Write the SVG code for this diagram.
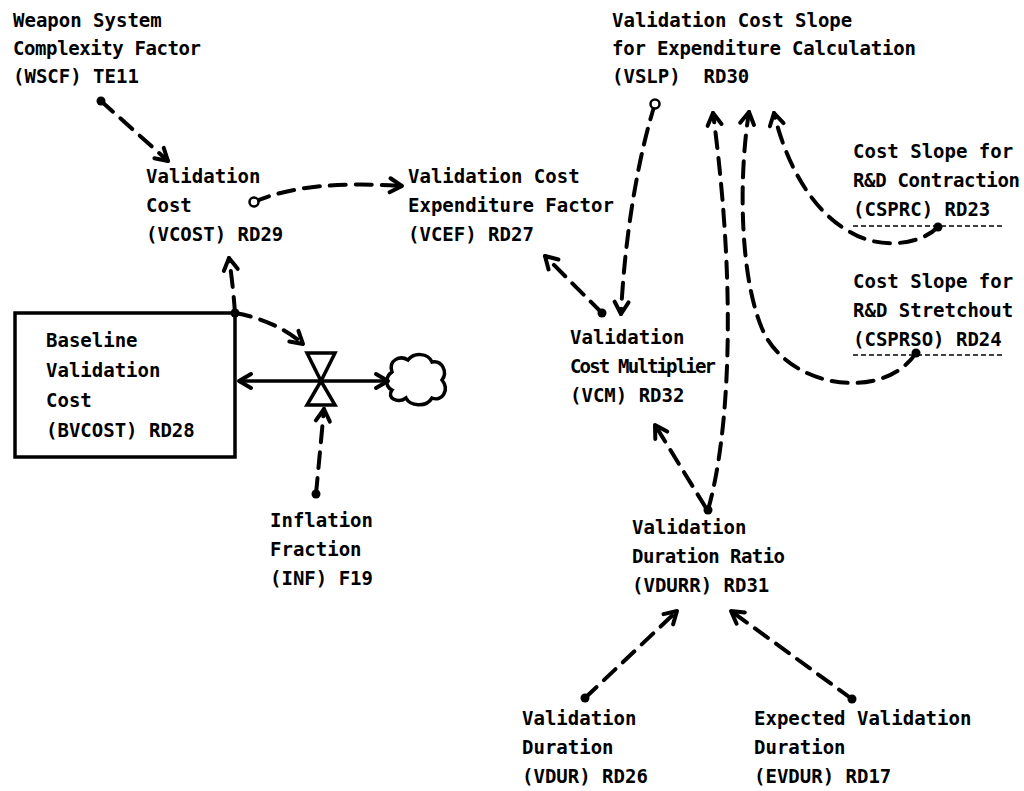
<svg xmlns="http://www.w3.org/2000/svg" width="1024" height="791" viewBox="0 0 1024 791">
<style>
text{font-family:"DejaVu Sans Mono","Liberation Mono",monospace;font-weight:bold;font-size:19px;fill:#000}
.c{fill:none;stroke:#000;stroke-width:4;stroke-dasharray:16 10;stroke-linecap:round}
.s{fill:none;stroke:#000;stroke-width:3.5}
.u{stroke:#000;stroke-width:1.6;stroke-dasharray:5 3}
</style>
<defs>
<marker id="ah" markerUnits="userSpaceOnUse" markerWidth="20" markerHeight="20" viewBox="-14 -10 16 20" refX="0" refY="0" orient="auto">
<path d="M-12,-7 L0,0 L-12,7" fill="none" stroke="#000" stroke-width="4" stroke-linecap="round" stroke-linejoin="round"/>
</marker>
<marker id="dot" markerUnits="userSpaceOnUse" markerWidth="12" markerHeight="12" viewBox="-6 -6 12 12" refX="0" refY="0">
<circle r="4.5" fill="#000"/>
</marker>
<marker id="oc" markerUnits="userSpaceOnUse" markerWidth="14" markerHeight="14" viewBox="-7 -7 14 14" refX="0" refY="0">
<circle r="4.5" fill="#fff" stroke="#000" stroke-width="2.5"/>
</marker>
</defs>

<g id="connectors">
<path class="c" d="M101,101 L168,161" marker-start="url(#dot)" marker-end="url(#ah)"/>
<path class="c" d="M254,202 C290,186 340,182 402,186" marker-start="url(#oc)" marker-end="url(#ah)"/>
<path class="c" d="M235,313 Q233,285 229,258" marker-start="url(#dot)" marker-end="url(#ah)"/>
<path class="c" d="M235,313 Q275,320 303,344" marker-end="url(#ah)"/>
<path class="c" d="M316,494 L324,409" marker-start="url(#dot)" marker-end="url(#ah)"/>
<path class="c" d="M602,313 L545,256" marker-start="url(#dot)" marker-end="url(#ah)"/>
<path class="c" d="M655,104 C640,150 625,230 621,314" marker-start="url(#oc)" marker-end="url(#ah)"/>
<path class="c" d="M708,510 C728,440 738,300 713,113" marker-start="url(#dot)" marker-end="url(#ah)"/>
<path class="c" d="M916,353 C885,400 795,390 765,335 C740,285 738,180 749,112" marker-start="url(#dot)" marker-end="url(#ah)"/>
<path class="c" d="M938,227 C920,245 880,250 850,232 C810,210 785,160 774,113" marker-start="url(#dot)" marker-end="url(#ah)"/>
<path class="c" d="M706,508 L655,425" marker-end="url(#ah)"/>
<path class="c" d="M585,698 L677,611" marker-start="url(#dot)" marker-end="url(#ah)"/>
<path class="c" d="M852,699 L731,611" marker-start="url(#dot)" marker-end="url(#ah)"/>
</g>

<g id="flow">
<line class="s" x1="321" y1="381" x2="239" y2="381" marker-end="url(#ah)"/>
<line class="s" x1="321" y1="381" x2="388" y2="381" marker-end="url(#ah)"/>
<polygon class="s" fill="#fff" points="307,353 335,353 321,381"/>
<polygon class="s" fill="#fff" points="321,381 307,405 335,405"/>
<path id="cloud" class="s" fill="#fff" d="M392,372 C388,360 400,355 408,360 C414,352 428,353 432,362 C442,360 448,372 442,380 C450,390 442,402 432,398 C426,408 410,406 406,398 C398,404 386,398 392,390 C384,386 386,376 392,372 Z"/>
</g>

<g id="WSCF"><text x="13" y="27">Weapon System</text><text x="13" y="55" textLength="188" lengthAdjust="spacing">Complexity Factor</text><text x="13" y="83">(WSCF) TE11</text></g>
<g id="VSLP"><text x="612" y="27">Validation Cost Slope</text><text x="612" y="55" textLength="304" lengthAdjust="spacing">for Expenditure Calculation</text><text x="612" y="83" xml:space="preserve">(VSLP)  RD30</text></g>
<g id="VCOST"><text x="146" y="183">Validation</text><text x="146" y="212">Cost</text><text x="146" y="241">(VCOST) RD29</text></g>
<g id="VCEF"><text x="408" y="183">Validation Cost</text><text x="408" y="212">Expenditure Factor</text><text x="408" y="241">(VCEF) RD27</text></g>
<g id="CSPRC"><text x="853" y="158">Cost Slope for</text><text x="853" y="187" textLength="167" lengthAdjust="spacing">R&amp;D Contraction</text><text x="853" y="216">(CSPRC) RD23</text><line class="u" x1="853" y1="226" x2="1005" y2="226"/></g>
<g id="CSPRSO"><text x="853" y="288">Cost Slope for</text><text x="853" y="317">R&amp;D Stretchout</text><text x="853" y="346">(CSPRSO) RD24</text><line class="u" x1="853" y1="355" x2="1005" y2="355"/></g>
<g id="BVCOST"><rect x="15" y="313" width="220" height="144" fill="none" stroke="#000" stroke-width="3.5"/><text x="46" y="347">Baseline</text><text x="46" y="377">Validation</text><text x="46" y="407">Cost</text><text x="46" y="437">(BVCOST) RD28</text></g>
<g id="VCM"><text x="570" y="344">Validation</text><text x="570" y="373" textLength="146" lengthAdjust="spacing">Cost Multiplier</text><text x="570" y="402">(VCM) RD32</text></g>
<g id="INF"><text x="270" y="527">Inflation</text><text x="270" y="556">Fraction</text><text x="270" y="585">(INF) F19</text></g>
<g id="VDURR"><text x="632" y="534">Validation</text><text x="632" y="563" textLength="153" lengthAdjust="spacing">Duration Ratio</text><text x="632" y="592">(VDURR) RD31</text></g>
<g id="VDUR"><text x="522" y="725">Validation</text><text x="522" y="754">Duration</text><text x="522" y="783">(VDUR) RD26</text></g>
<g id="EVDUR"><text x="754" y="725">Expected Validation</text><text x="754" y="754">Duration</text><text x="754" y="783">(EVDUR) RD17</text></g>
</svg>
